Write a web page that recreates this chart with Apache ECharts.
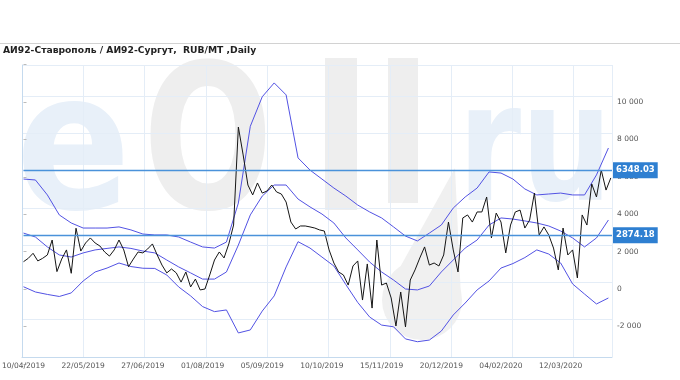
<!DOCTYPE html>
<html><head><meta charset="utf-8">
<script src="https://cdn.jsdelivr.net/npm/echarts@6/dist/echarts.min.js"></script>
<style>html,body{margin:0;padding:0;background:#fff}#c{width:680px;height:380px}</style>
</head><body><div id="c"></div>
<script>
const titleText = 'АИ92-Ставрополь / АИ92-Сургут,  RUB/MT ,Daily';
// date labels, one every 25 trading days (index 0 = 10/04/2019)
const dateLabels = ['10/04/2019','22/05/2019','27/06/2019','01/08/2019','05/09/2019','10/10/2019','15/11/2019','20/12/2019','04/02/2020','12/03/2020'];
const labelStep = 25;
const lastIndex = 246.5;
// spread readings every 2 trading days
const priceStep = 2;
const spread = [
 1460,1640,1910,1500,1640,1820,2620,930,1600,2090,
 840,3250,2030,2460,2730,2460,2300,1980,1760,2090,
 2620,2090,1190,1600,1980,1930,2140,2410,1820,1280,
 860,1070,860,370,910,110,530,-50,0,750,
 1550,1980,1660,2410,3420,8660,7170,5560,5030,5670,
 5130,5240,5560,5190,5080,4650,3580,3210,3370,3370,
 3320,3260,3160,3100,2090,1390,910,750,210,1230,
 1500,-590,1340,-1020,2620,210,320,-480,-1980,-160,
 -2030,480,1020,1660,2250,1280,1390,1230,1820,3580,
 2090,910,3800,3960,3580,4120,4120,4920,2730,4060,
 3580,1930,3420,4120,4220,3260,3690,5130,2890,3320,
 2890,2190,1020,3260,1820,2090,590,3960,3420,5620,
 4920,6360,5290,5940
];
// Bollinger bands, readings every 5 trading days
const bandStep = 5;
const upperBand = [
 5880,5830,5030,3960,3530,3260,3260,3260,3320,3160,
 2940,2890,2890,2780,2510,2250,2190,2510,4600,8700,
 10280,11020,10380,7010,6360,5880,5400,4970,4490,4120,
 3800,3320,2830,2570,2990,3420,4330,4920,5400,6260,
 6200,5880,5350,5030,5080,5130,5030,5030,6100,7540
];
const middleBand = [
 2990,2780,2250,1820,1710,1930,2090,2170,2250,2170,
 2030,1930,1550,1180,860,530,530,910,2350,3960,
 4970,5560,5560,4810,4390,4010,3530,2730,2090,1440,
 910,480,0,-50,160,910,1550,2190,2620,3420,
 3800,3740,3640,3530,3370,3100,2730,2250,2730,3690
];
const lowerBand = [
 120,-160,-290,-400,-210,430,910,1120,1390,1200,
 1110,1100,750,110,-370,-940,-1210,-1120,-2350,-2190,
 -1180,-370,1180,2530,2190,1710,1230,240,-720,-1500,
 -1930,-2020,-2670,-2820,-2730,-2250,-1390,-750,-50,430,
 1120,1360,1680,2090,1870,1390,270,-270,-800,-480
];
const refLevels = [6348.03, 2874.18];
const yMin = -4000, yMax = 12000, yStep = 2000;

const fmtNum = v => {
  const s = String(Math.abs(v)).replace(/\B(?=(\d{3})+(?!\d))/g, ' ');
  return (v < 0 ? '-' : '') + s;
};
const toPairs = (arr, step) => arr.map((v, i) => [i * step, v]);

const bandStyle = {color: '#5252e3', width: 1};
const gridLineColor = '#e4edf7';
const axisLineColor = '#c5daee';
const labelFont = {fontFamily: 'DejaVu Sans', fontSize: 7.5, color: '#555'};
const wmBlue = '#e8f0f9', wmGray = '#eeeeee';

const chart = echarts.init(document.getElementById('c'), null, {renderer: 'canvas', width: 680, height: 380});
chart.setOption({
  animation: false,
  backgroundColor: '#fff',
  graphic: [
    // watermark
    {type: 'text', z: -5, x: 16, y: 159, scaleX: 0.89, style: {text: 'e', fontFamily: 'DejaVu Sans', fontWeight: 'bold', fontSize: 190, fill: wmBlue, verticalAlign: 'middle'}},
    {type: 'text', z: -5, x: 143, y: 156, scaleX: 0.76, style: {text: 'O', fontFamily: 'DejaVu Sans', fontWeight: 'bold', fontSize: 201, fill: wmGray, verticalAlign: 'middle'}},
    {type: 'rect', z: -5, shape: {x: 325, y: 58, width: 32, height: 152}, style: {fill: wmGray}},
    {type: 'rect', z: -5, shape: {x: 388, y: 58, width: 30, height: 145}, style: {fill: wmGray}},
    {type: 'polygon', z: -5, shape: {points: [[455, 168], [461, 298], [383, 298]]}, style: {fill: '#f0f0f0'}},
    {type: 'circle', z: -5, shape: {cx: 422, cy: 300, r: 40}, style: {fill: '#f0f0f0'}},
    {type: 'text', z: -5, x: 458, y: 157, scaleX: 0.78, style: {text: 'ru', fontFamily: 'DejaVu Sans', fontWeight: 'bold', fontSize: 164, fill: wmBlue, verticalAlign: 'middle'}},
    // header
    {type: 'rect', z: 8, shape: {x: 0, y: 0, width: 680, height: 43}, style: {fill: '#fff'}},
    {type: 'line', z: 9, shape: {x1: 0, y1: 43.5, x2: 680, y2: 43.5}, style: {stroke: '#d2d2d2', lineWidth: 1}},
    {type: 'text', z: 10, x: 3, y: 51, style: {text: titleText, fontFamily: 'DejaVu Sans', fontWeight: 'bold', fontSize: 9.2, fill: '#222', verticalAlign: 'middle'}}
  ],
  grid: [
    {left: 23.5, right: 68, top: 64.6, bottom: 16.2, outerBoundsMode: 'none'},
    {left: 22, right: 68, top: 65, bottom: 23, outerBoundsMode: 'none'}
  ],
  xAxis: [
    {type: 'value', gridIndex: 0, min: 0, max: lastIndex, interval: labelStep, offset: -6.8,
     axisLine: {show: false}, axisTick: {show: false}, splitLine: {show: false},
     axisLabel: Object.assign({margin: 5, formatter: v => (v % labelStep === 0 && dateLabels[v / labelStep]) || ''}, labelFont)},
    {type: 'value', gridIndex: 1, min: 0, max: 9.625, interval: 1,
     axisLine: {show: true, lineStyle: {color: axisLineColor}}, axisTick: {show: false}, axisLabel: {show: false},
     splitLine: {show: true, lineStyle: {color: gridLineColor, width: 1}}}
  ],
  yAxis: [
    {type: 'value', gridIndex: 0, position: 'right', min: yMin, max: yMax, interval: yStep,
     axisLine: {show: false}, axisTick: {show: true, length: 3, lineStyle: {color: '#bbb'}}, splitLine: {show: false},
     axisLabel: Object.assign({margin: 5, formatter: v => (v === yMin || v === yMax) ? '' : fmtNum(v)}, labelFont)},
    {type: 'value', gridIndex: 1, position: 'right', min: 0, max: 7.828, interval: 1,
     axisLine: {show: true, lineStyle: {color: axisLineColor}}, axisTick: {show: false}, axisLabel: {show: false},
     splitLine: {show: true, lineStyle: {color: gridLineColor, width: 1}}}
  ],
  series: [
    {type: 'line', xAxisIndex: 0, yAxisIndex: 0, data: toPairs(lowerBand, bandStep), symbol: 'none', lineStyle: bandStyle, silent: true},
    {type: 'line', xAxisIndex: 0, yAxisIndex: 0, data: toPairs(middleBand, bandStep), symbol: 'none', lineStyle: bandStyle, silent: true},
    {type: 'line', xAxisIndex: 0, yAxisIndex: 0, data: toPairs(upperBand, bandStep), symbol: 'none', lineStyle: bandStyle, silent: true},
    {type: 'line', xAxisIndex: 0, yAxisIndex: 0, data: toPairs(spread, priceStep), symbol: 'none',
     lineStyle: {color: '#151515', width: 1}, silent: true, z: 3,
     markLine: {symbol: 'none', silent: true, animation: false,
       lineStyle: {color: '#4a92da', width: 1.3, type: 'solid'},
       label: {position: 'end', distance: 1, formatter: p => Number(p.value).toFixed(2),
         backgroundColor: '#2e7fd1', color: '#fff', fontWeight: 'bold', fontSize: 8.5, fontFamily: 'DejaVu Sans', padding: [4, 3, 3, 3]},
       data: refLevels.map(v => ({yAxis: v}))}}
  ]
});
</script></body></html>
